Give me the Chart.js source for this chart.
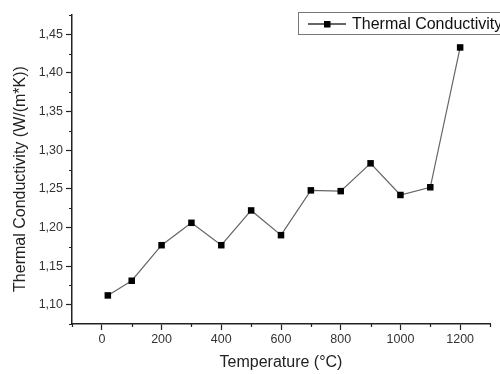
<!DOCTYPE html>
<html>
<head>
<meta charset="utf-8">
<script src="https://cdn.jsdelivr.net/npm/chart.js@4/dist/chart.umd.min.js"></script>
<style>
  html, body { margin: 0; padding: 0; background: #fff; }
  #wrap { width: 500px; height: 374px; position: relative; }
</style>
</head>
<body>
<div id="wrap"><canvas id="chart"></canvas></div>
<script>
// ── Data ──
const temperatures = [20, 100, 200, 300, 400, 500, 600, 700, 800, 900, 1000, 1100, 1200];
const conductivity = [1.112, 1.131, 1.177, 1.206, 1.177, 1.222, 1.190, 1.248, 1.247, 1.283, 1.242, 1.252, 1.433];

const xMajorTicks = [0, 200, 400, 600, 800, 1000, 1200];
const xMinorTicks = [-100, 100, 300, 500, 700, 900, 1100, 1300];
const yMajorTicks = [1.10, 1.15, 1.20, 1.25, 1.30, 1.35, 1.40, 1.45];
const yMinorTicks = [1.075, 1.125, 1.175, 1.225, 1.275, 1.325, 1.375, 1.425, 1.475];

const seriesLabel = 'Thermal Conductivity';
const xTitle = 'Temperature (°C)';
const yTitle = 'Thermal Conductivity (W/(m*K))';

const FONT = '"Liberation Sans", Arial, sans-serif';
const AXIS = '#222';

// ── Minor ticks (Chart.js has none) ──
const minorTicks = {
  id: 'minorTicks',
  afterDraw(chart) {
    const { ctx, chartArea, scales: { x, y } } = chart;
    ctx.save();
    ctx.strokeStyle = AXIS;
    ctx.lineWidth = 1.2;
    ctx.beginPath();
    xMinorTicks.forEach(v => {
      const px = Math.round(x.getPixelForValue(v)) + 0.5;
      ctx.moveTo(px, chartArea.bottom);
      ctx.lineTo(px, chartArea.bottom + 3);
    });
    yMinorTicks.forEach(v => {
      const py = Math.round(y.getPixelForValue(v)) + 0.5;
      ctx.moveTo(chartArea.left, py);
      ctx.lineTo(chartArea.left - 3, py);
    });
    ctx.stroke();
    ctx.restore();
  }
};

// ── Y title: the original sits a little below the axis centre ──
const yAxisTitle = {
  id: 'yAxisTitle',
  afterDraw(chart) {
    const { ctx } = chart;
    ctx.save();
    ctx.translate(21, 179);
    ctx.rotate(-Math.PI / 2);
    ctx.fillStyle = '#222';
    ctx.font = '16px ' + FONT;
    ctx.textAlign = 'center';
    ctx.textBaseline = 'middle';
    ctx.fillText(yTitle, 0, 0);
    ctx.restore();
  }
};

// ── Boxed legend, top right, like the original ──
const boxLegend = {
  id: 'boxLegend',
  afterDraw(chart) {
    const { ctx } = chart;
    const ds = chart.data.datasets[0];
    ctx.save();
    ctx.fillStyle = '#fff';
    ctx.fillRect(298.5, 12.5, 210, 22);
    ctx.strokeStyle = '#777';
    ctx.lineWidth = 1;
    ctx.strokeRect(298.5, 12.5, 210, 22);
    ctx.strokeStyle = '#333';
    ctx.lineWidth = 1.3;
    ctx.beginPath();
    ctx.moveTo(308, 24);
    ctx.lineTo(346, 24);
    ctx.stroke();
    ctx.fillStyle = ds.pointBackgroundColor;
    ctx.fillRect(324, 21, 6.5, 6.5);
    ctx.fillStyle = '#111';
    ctx.font = '16px ' + FONT;
    ctx.textBaseline = 'middle';
    ctx.fillText(seriesLabel, 352, 24.5);
    ctx.restore();
  }
};

new Chart(document.getElementById('chart'), {
  type: 'line',
  data: {
    datasets: [{
      label: seriesLabel,
      data: temperatures.map((t, i) => ({ x: t, y: conductivity[i] })),
      borderColor: '#666',
      borderWidth: 1.2,
      pointStyle: 'rect',
      pointRadius: 4.6,
      pointBorderWidth: 0,
      pointBackgroundColor: '#000',
      tension: 0,
    }],
  },
  options: {
    responsive: true,
    maintainAspectRatio: false,
    animation: false,
    layout: { padding: { top: 15, right: 10, left: 0, bottom: 0 } },
    plugins: { legend: { display: false }, tooltip: { enabled: false } },
    scales: {
      x: {
        type: 'linear',
        min: -100,
        max: 1300,
        afterFit: s => { s.height = 50; },
        afterBuildTicks: s => { s.ticks = xMajorTicks.map(v => ({ value: v })); },
        grid: { drawOnChartArea: false, tickLength: 6, tickColor: AXIS, tickWidth: 1.2 },
        border: { color: AXIS, width: 1.5 },
        ticks: { color: '#333', padding: 2, font: { family: FONT, size: 12.5 }, maxRotation: 0,
                 callback: v => String(v) },
        title: { display: true, text: xTitle, color: '#222', font: { family: FONT, size: 16 },
                 padding: { top: 0, bottom: 1.5 } },
      },
      y: {
        min: 1.075,
        max: 1.475,
        afterFit: s => { s.width = 72; },
        afterBuildTicks: s => { s.ticks = yMajorTicks.map(v => ({ value: v })); },
        grid: { drawOnChartArea: false, tickLength: 6, tickColor: AXIS, tickWidth: 1.2 },
        border: { color: AXIS, width: 1.5 },
        ticks: { color: '#333', padding: 3, font: { family: FONT, size: 12.5 },
                 callback: v => v.toFixed(2).replace('.', ',') },
        title: { display: false },
      },
    },
  },
  plugins: [minorTicks, yAxisTitle, boxLegend],
});
</script>
</body>
</html>
